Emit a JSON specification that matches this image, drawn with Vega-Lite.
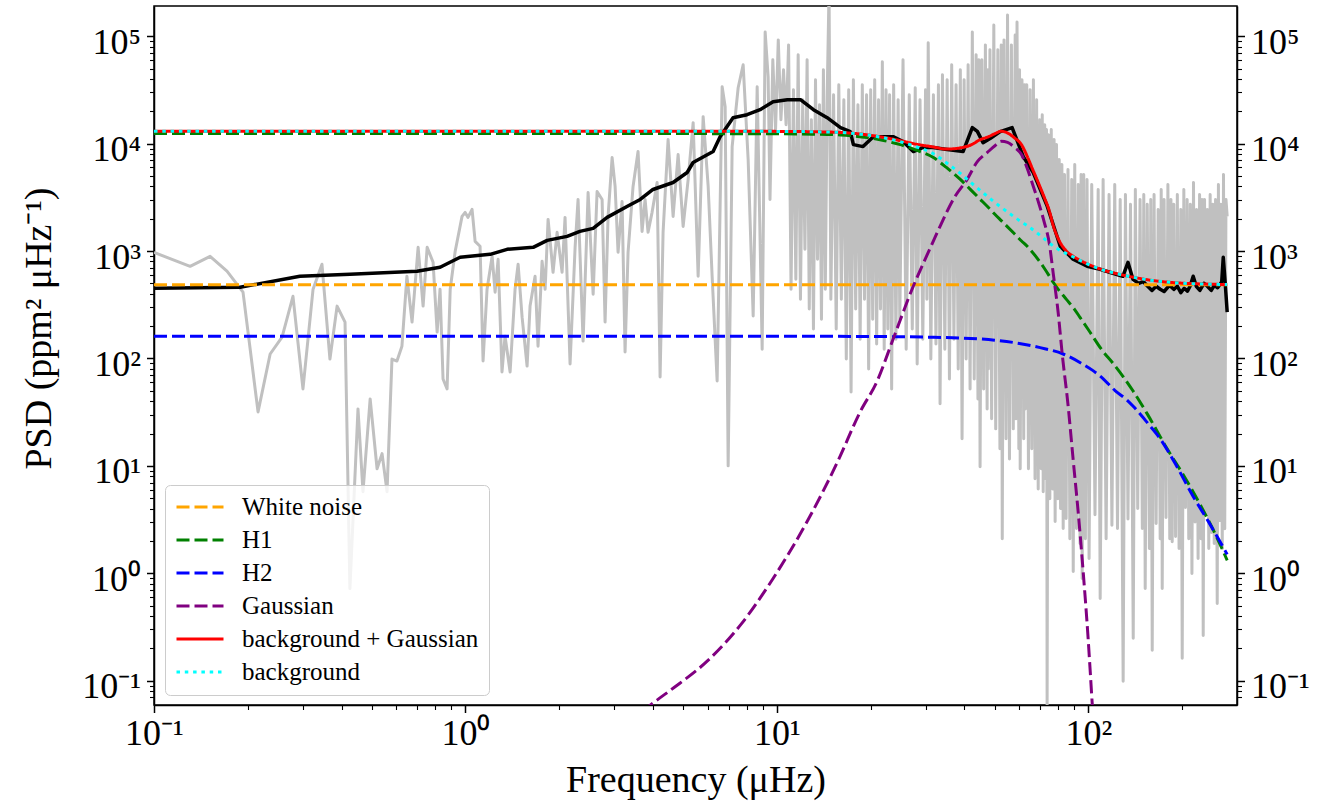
{
  "$schema": "https://vega.github.io/schema/vega-lite/v6.json",
  "width": 1083,
  "height": 699,
  "autosize": "none",
  "padding": {"left": 154, "top": 6, "right": 98, "bottom": 103},
  "background": "white",
  "config": {
    "view": {"stroke": "black", "strokeWidth": 1.5},
    "font": "Liberation Serif",
    "axis": {
      "labelFont": "Liberation Serif", "titleFont": "Liberation Serif",
      "labelFontSize": 36, "titleFontSize": 38, "titleFontWeight": "normal",
      "labelColor": "black", "titleColor": "black",
      "domainColor": "black", "domainWidth": 1.5, "tickColor": "black",
      "grid": false, "labelFlush": false, "labelOverlap": false, "labelBound": false
    }
  },
  "datasets": {
    "gray": [
      {"f":0.1,"p":970},{"f":0.1306,"p":721},{"f":0.1514,"p":893},{"f":0.1715,"p":649},{"f":0.1931,"p":414},{"f":0.2158,"p":31.8},{"f":0.236,"p":110},{"f":0.2577,"p":158},{"f":0.2794,"p":379},{"f":0.3008,"p":52},{"f":0.3241,"p":441},{"f":0.3462,"p":753},{"f":0.3672,"p":98.7},{"f":0.3871,"p":307},{"f":0.4105,"p":218},{"f":0.4256,"p":0.72},{"f":0.4518,"p":33.9},{"f":0.4688,"p":5.75},{"f":0.4943,"p":42},{"f":0.5202,"p":9.4},{"f":0.5398,"p":13},{"f":0.56,"p":5.75},{"f":0.5808,"p":98.7},{"f":0.6026,"p":94.6},{"f":0.6252,"p":130},{"f":0.6486,"p":582},{"f":0.6738,"p":218},{"f":0.7047,"p":1082},{"f":0.7311,"p":307},{"f":0.7534,"p":1082},{"f":0.7872,"p":785},{"f":0.811,"p":176},{"f":0.8287,"p":441},{"f":0.8472,"p":64.4},{"f":0.8729,"p":52},{"f":0.8933,"p":441},{"f":0.9268,"p":994},{"f":0.975,"p":2100},{"f":0.9977,"p":2290},{"f":1.019,"p":2056},{"f":1.05,"p":2440},{"f":1.074,"p":1231},{"f":1.114,"p":1107},
      {"f":1.139,"p":94.6},{"f":1.173,"p":441},{"f":1.218,"p":893},{"f":1.245,"p":414},{"f":1.273,"p":838},{"f":1.31,"p":74.8},{"f":1.34,"p":161},{"f":1.391,"p":74.8},{"f":1.443,"p":441},{"f":1.476,"p":753},{"f":1.52,"p":242},{"f":1.577,"p":84.9},{"f":1.612,"p":307},{"f":1.673,"p":582},{"f":1.71,"p":130},{"f":1.762,"p":802},{"f":1.802,"p":441},{"f":1.842,"p":1970},{"f":1.911,"p":634},{"f":1.969,"p":1493},{"f":2.043,"p":634},{"f":2.088,"p":2056},{"f":2.167,"p":88.7},{"f":2.249,"p":1082},{"f":2.299,"p":3020},{"f":2.386,"p":145},{"f":2.476,"p":3509},{"f":2.57,"p":396},{"f":2.646,"p":3580},{"f":2.746,"p":3020},{"f":2.807,"p":218},{"f":2.87,"p":2100},{"f":2.957,"p":7410},{"f":3.023,"p":3990},{"f":3.09,"p":973},{"f":3.183,"p":2893},{"f":3.254,"p":115},{"f":3.327,"p":973},{"f":3.452,"p":3990},{"f":3.582,"p":8436},{"f":3.69,"p":1523},{"f":3.773,"p":3020},{"f":3.857,"p":1493},{"f":3.973,"p":2290},{"f":4.124,"p":4345},{"f":4.216,"p":67.2},{"f":4.31,"p":1493},{"f":4.473,"p":10900},{"f":4.642,"p":2100},{"f":4.817,"p":7910},{"f":4.999,"p":1694},{"f":5.188,"p":4640},{"f":5.383,"p":15670},{"f":5.585,"p":582},{"f":5.796,"p":17830},{"f":6.015,"p":3990},{"f":6.194,"p":582},{"f":6.427,"p":61.6},{"f":6.67,"p":33800},{"f":6.82,"p":22080},{"f":6.973,"p":10},{"f":7.182,"p":9380},{"f":7.508,"p":33100},{"f":7.791,"p":54200},{"f":8.084,"p":7100},{"f":8.389,"p":248},{"f":8.641,"p":33800},{"f":8.966,"p":122},{"f":9.166,"p":109600},{"f":9.371,"p":41900},
      {"f":9.5,"p":3020},{"f":9.7,"p":60200},{"f":9.9,"p":13500},{"f":10.1,"p":92400},{"f":10.3,"p":16700},{"f":10.5,"p":48700},{"f":10.7,"p":15000},{"f":10.9,"p":83000},{"f":11.1,"p":441},{"f":11.3,"p":31700},{"f":11.5,"p":546},{"f":11.7,"p":67000},{"f":11.9,"p":356},{"f":12.1,"p":25600},{"f":12.3,"p":1037},{"f":12.5,"p":60200},{"f":12.7,"p":288},{"f":12.9,"p":16700},{"f":13.1,"p":188},{"f":13.3,"p":39300},{"f":13.5,"p":838},{"f":13.7,"p":23000},{"f":13.9,"p":232},{"f":14.1,"p":48700},{"f":14.3,"p":441},{"f":14.5,"p":28500},{"f":14.7,"p":269000},{"f":14.9,"p":356},
      {"f":15.2,"p":28500},{"f":15.5,"p":188},{"f":15.8,"p":35300},{"f":16.1,"p":356},{"f":16.4,"p":25600},{"f":16.7,"p":98.7},{"f":17.0,"p":31700},{"f":17.3,"p":48.8},{"f":17.6,"p":39300},{"f":17.9,"p":288},{"f":18.2,"p":23000},{"f":18.5,"p":151},{"f":18.8,"p":35300},{"f":19.1,"p":356},{"f":19.4,"p":28500},{"f":19.7,"p":79.7},{"f":20.0,"p":31700},{"f":20.3,"p":232},{"f":20.6,"p":39300},{"f":20.9,"p":136},{"f":21.2,"p":25600},{"f":21.5,"p":288},{"f":21.8,"p":57700},{"f":22.1,"p":122},{"f":22.4,"p":31700},{"f":22.7,"p":188},{"f":23.0,"p":28500},{"f":23.35,"p":52},{"f":23.7,"p":35300},{"f":24.1,"p":151},{"f":24.5,"p":25600},{"f":24.8,"p":232},
      {"f":25.4,"p":60200},{"f":26.0,"p":122},{"f":26.6,"p":28500},{"f":27.2,"p":188},{"f":27.8,"p":33100},{"f":28.2,"p":88.7},{"f":28.8,"p":25600},{"f":29.4,"p":151},{"f":30.0,"p":31700},{"f":30.3,"p":356},{"f":30.6,"p":86700},{"f":31.2,"p":98.7},{"f":31.8,"p":28500},{"f":32.4,"p":136},{"f":33.0,"p":35300},{"f":33.4,"p":37.8},{"f":34.0,"p":43700},{"f":34.6,"p":122},{"f":35.2,"p":39300},{"f":35.8,"p":64.4},{"f":36.4,"p":54200},{"f":37.0,"p":151},{"f":37.6,"p":35300},{"f":38.2,"p":79.7},{"f":38.8,"p":48700},{"f":39.3,"p":17.9},{"f":39.9,"p":39300},{"f":40.5,"p":98.7},{"f":41.1,"p":54200},{"f":41.7,"p":52},{"f":42.4,"p":109600},{"f":43.0,"p":64.4},{"f":43.6,"p":67000},{"f":44.2,"p":42},{"f":44.5,"p":60200},{"f":44.9,"p":9.8},{"f":45.5,"p":60200},{"f":46.1,"p":52},{"f":46.7,"p":83000},{"f":47.3,"p":33.9},{"f":47.5,"p":48700},{"f":47.7,"p":79.7},{"f":48.3,"p":74600},{"f":48.9,"p":27.4},{"f":49.7,"p":127400},
      {"f":50.4,"p":22.1},{"f":51.2,"p":74600},{"f":52.0,"p":14.4},{"f":52.5,"p":83000},{"f":52.9,"p":2.1},{"f":53.6,"p":92400},{"f":54.4,"p":17.9},{"f":55.0,"p":157700},{"f":55.8,"p":11.6},{"f":56.6,"p":83000},{"f":57.4,"p":22.1},{"f":58.2,"p":102800},{"f":58.6,"p":27.4},{"f":59.0,"p":135800},{"f":59.8,"p":14.4},{"f":60.1,"p":48700},{"f":60.4,"p":9.4},{"f":61.2,"p":39300},{"f":62.0,"p":17.9},{"f":62.35,"p":35300},{"f":62.7,"p":33.9},{"f":63.4,"p":35300},{"f":64.2,"p":9.4},{"f":65.0,"p":31700},{"f":65.8,"p":14.4},{"f":66.6,"p":39300},{"f":67.4,"p":7.6},{"f":68.2,"p":25600},{"f":69.0,"p":6.1},{"f":69.8,"p":16700},{"f":70.6,"p":9.4},{"f":71.1,"p":18600},{"f":71.6,"p":5.75},{"f":72.4,"p":15000},{"f":73.0,"p":7.6},{"f":73.35,"p":13500},{"f":73.7,"p":0.0555},{"f":74.4,"p":12100},{"f":75.2,"p":4.95},{"f":76.0,"p":13500},{"f":76.8,"p":6.1},{"f":77.6,"p":10900},{"f":78.2,"p":3.03},{"f":79.0,"p":9790},{"f":79.8,"p":4.95},{"f":80.6,"p":7100},{"f":81.4,"p":4.0},{"f":82.2,"p":6380},{"f":83.0,"p":2.61},{"f":83.8,"p":5150},{"f":84.8,"p":3.23},{"f":86.0,"p":5740},{"f":87.2,"p":2.1},{"f":88.4,"p":4640},{"f":89.4,"p":1.04},{"f":90.4,"p":6380},{"f":91.6,"p":2.61},{"f":92.8,"p":4160},{"f":94.0,"p":1.89},{"f":94.75,"p":5150},{"f":95.5,"p":0.895},{"f":96.6,"p":5150},{"f":97.8,"p":2.1},{"f":99.0,"p":4640},
      {"f":100.5,"p":1.37},{"f":102.5,"p":4160},{"f":105,"p":3.5},{"f":107.5,"p":3740},{"f":109.1,"p":0.583},{"f":111.5,"p":4640},{"f":114,"p":2.1},{"f":116.5,"p":3360},{"f":119,"p":2.8},{"f":121.5,"p":4160},{"f":124,"p":2.61},{"f":126.5,"p":3020},{"f":129.3,"p":0.0989},{"f":131.5,"p":3360},{"f":134,"p":3.2},{"f":136.5,"p":2720},{"f":139.3,"p":0.248},{"f":141.5,"p":3740},{"f":144,"p":4.0},{"f":146.5,"p":3020},{"f":149,"p":2.61},{"f":150.6,"p":3360},{"f":152.2,"p":0.723},{"f":154.5,"p":2720},{"f":157,"p":1.7},{"f":158.6,"p":3020},{"f":160.3,"p":0.192},{"f":162.5,"p":3360},{"f":165,"p":2.9},{"f":167.5,"p":2440},{"f":170,"p":2.1},{"f":171.3,"p":3740},{"f":172.6,"p":0.723},{"f":175,"p":3020},{"f":177.5,"p":3.3},{"f":180,"p":4160},{"f":182.5,"p":2.1},{"f":184.1,"p":3020},{"f":185.8,"p":1.97},{"f":188,"p":2720},{"f":190.5,"p":2.2},{"f":193,"p":3360},{"f":195.5,"p":1.7},{"f":198,"p":2440},{"f":200.1,"p":0.162},{"f":202.5,"p":3740},{"f":205,"p":4.1},{"f":207.5,"p":3020},{"f":210,"p":2.1},{"f":212.5,"p":2720},{"f":215,"p":0.993},{"f":217.5,"p":4350},{"f":220,"p":3.0},{"f":222.5,"p":2440},{"f":225,"p":1.37},{"f":227.5,"p":3360},{"f":230,"p":2.1},{"f":231.8,"p":3020},{"f":233.7,"p":0.264},{"f":236,"p":3020},{"f":238.5,"p":3.6},{"f":241,"p":2440},{"f":243.5,"p":1.7},{"f":246,"p":3360},{"f":248.5,"p":2.4},{"f":251,"p":2720},{"f":253.5,"p":1.89},{"f":256,"p":3020},{"f":259.2,"p":0.524},{"f":261.5,"p":4160},{"f":264,"p":3.1},{"f":266.5,"p":2720},{"f":269,"p":1.7},{"f":271.5,"p":5150},{"f":274,"p":2.6},{"f":276.5,"p":3020},{"f":279,"p":2100}
    ],
    "black": [
      {"f":0.1,"p":451},{"f":0.189,"p":460},{"f":0.294,"p":582},{"f":0.426,"p":608},{"f":0.699,"p":648},{"f":0.829,"p":707},{"f":0.961,"p":875},{"f":1.2,"p":931},{"f":1.36,"p":1037},{"f":1.65,"p":1082},{"f":1.83,"p":1257},{"f":2.12,"p":1369},{"f":2.33,"p":1523},{"f":2.57,"p":1625},{"f":2.85,"p":2056},{"f":3.3,"p":2601},{"f":3.64,"p":3020},{"f":4.0,"p":3741},{"f":4.64,"p":4345},{"f":5.15,"p":5383},{"f":5.38,"p":6668},{"f":6.24,"p":8436},{"f":6.57,"p":11610},{"f":7.23,"p":17420},{"f":8.02,"p":18580},{"f":8.83,"p":20690},{"f":9.72,"p":24550},{"f":10.8,"p":25640},{"f":11.9,"p":25640},{"f":13.1,"p":20690},{"f":14.5,"p":17420},{"f":16.0,"p":14090},{"f":17.2,"p":12920},{"f":17.6,"p":9790},{"f":18.9,"p":9380},{"f":20.4,"p":11610},{"f":23.6,"p":11610},{"f":25.4,"p":10440},{"f":27.4,"p":8436},{"f":29.5,"p":9200},{"f":31.7,"p":9180},{"f":35.2,"p":8800},{"f":39.6,"p":8436},{"f":42.4,"p":14090},{"f":44,"p":13000},{"f":45.9,"p":10210},{"f":48.5,"p":11200},{"f":52.1,"p":12920},{"f":56.9,"p":14090},{"f":61.8,"p":7570},{"f":66.5,"p":5383},{"f":73.8,"p":2601},{"f":81.2,"p":1107},{"f":89.3,"p":838},{"f":99.1,"p":721},{"f":109,"p":676},{"f":117,"p":634},{"f":129,"p":582},{"f":134,"p":785},{"f":139,"p":546},{"f":145,"p":500},{"f":150,"p":520},{"f":155,"p":470},{"f":160,"p":430},{"f":165,"p":470},{"f":170,"p":441},{"f":175,"p":420},{"f":182,"p":480},{"f":188,"p":440},{"f":193,"p":470},{"f":198,"p":410},{"f":203,"p":450},{"f":208,"p":423},{"f":212,"p":470},{"f":217,"p":582},{"f":222,"p":470},{"f":228,"p":430},{"f":235,"p":500},{"f":241,"p":470},{"f":248,"p":430},{"f":254,"p":480},{"f":260,"p":455},{"f":265,"p":491},{"f":268,"p":520},{"f":271,"p":875},{"f":275,"p":500},{"f":279,"p":270}
    ],
    "model": [
      {"s":"White noise","f":0.1,"p":485},{"s":"White noise","f":279,"p":485},
      {"s":"H1","f":0.1,"p":12400},{"s":"H1","f":1,"p":12400},{"s":"H1","f":5,"p":12390},{"s":"H1","f":10,"p":12350},{"s":"H1","f":13,"p":12250},{"s":"H1","f":16,"p":12050},{"s":"H1","f":19.5,"p":11370},{"s":"H1","f":22,"p":10700},{"s":"H1","f":24.9,"p":9790},{"s":"H1","f":28,"p":8700},{"s":"H1","f":31.8,"p":7410},{"s":"H1","f":35,"p":6000},{"s":"H1","f":38.8,"p":4640},{"s":"H1","f":42,"p":3690},{"s":"H1","f":45,"p":3020},{"s":"H1","f":47.5,"p":2580},{"s":"H1","f":50,"p":2210},{"s":"H1","f":52.5,"p":1920},{"s":"H1","f":55,"p":1680},{"s":"H1","f":58,"p":1440},{"s":"H1","f":61,"p":1240},{"s":"H1","f":63.6,"p":1107},{"s":"H1","f":66,"p":980},{"s":"H1","f":69,"p":833},{"s":"H1","f":72,"p":699},{"s":"H1","f":75,"p":582},{"s":"H1","f":77.1,"p":512},{"s":"H1","f":80,"p":440},{"s":"H1","f":85,"p":355},{"s":"H1","f":90,"p":290},{"s":"H1","f":94.1,"p":240},{"s":"H1","f":100,"p":185},{"s":"H1","f":111,"p":118},{"s":"H1","f":120,"p":90},{"s":"H1","f":139,"p":50},{"s":"H1","f":155,"p":30},{"s":"H1","f":179,"p":14.4},{"s":"H1","f":200,"p":8.6},{"s":"H1","f":229,"p":4.3},{"s":"H1","f":255,"p":2.35},{"s":"H1","f":279,"p":1.32},
      {"s":"H2","f":0.1,"p":161},{"s":"H2","f":1,"p":161},{"s":"H2","f":10,"p":161},{"s":"H2","f":20,"p":160},{"s":"H2","f":30,"p":158},{"s":"H2","f":38.8,"p":155},{"s":"H2","f":50,"p":148},{"s":"H2","f":60,"p":138},{"s":"H2","f":70,"p":126},{"s":"H2","f":83,"p":110},{"s":"H2","f":95,"p":90},{"s":"H2","f":103.5,"p":77},{"s":"H2","f":109,"p":68.7},{"s":"H2","f":122,"p":50},{"s":"H2","f":133,"p":41},{"s":"H2","f":139,"p":36.1},{"s":"H2","f":155,"p":25},{"s":"H2","f":170,"p":17.9},{"s":"H2","f":190,"p":10.5},{"s":"H2","f":217,"p":5.19},{"s":"H2","f":245,"p":2.9},{"s":"H2","f":279,"p":1.5},
      {"s":"Gaussian","f":3.7,"p":0.052},{"s":"Gaussian","f":4.12,"p":0.066},{"s":"Gaussian","f":4.64,"p":0.085},{"s":"Gaussian","f":5.97,"p":0.152},{"s":"Gaussian","f":7.62,"p":0.327},{"s":"Gaussian","f":9.72,"p":0.895},{"s":"Gaussian","f":12.5,"p":3.03},{"s":"Gaussian","f":15.7,"p":11.1},{"s":"Gaussian","f":18.5,"p":31.8},{"s":"Gaussian","f":21,"p":62},{"s":"Gaussian","f":23.6,"p":151},{"s":"Gaussian","f":27.4,"p":470},{"s":"Gaussian","f":30.5,"p":950},{"s":"Gaussian","f":33.4,"p":1694},{"s":"Gaussian","f":37,"p":3100},{"s":"Gaussian","f":40.8,"p":4640},{"s":"Gaussian","f":44,"p":6800},{"s":"Gaussian","f":47.3,"p":8240},{"s":"Gaussian","f":50,"p":9500},{"s":"Gaussian","f":52.5,"p":10500},{"s":"Gaussian","f":55,"p":10250},{"s":"Gaussian","f":58,"p":9200},{"s":"Gaussian","f":61,"p":7900},{"s":"Gaussian","f":63.6,"p":5900},{"s":"Gaussian","f":66,"p":4300},{"s":"Gaussian","f":69,"p":2900},{"s":"Gaussian","f":72,"p":1900},{"s":"Gaussian","f":75,"p":1150},{"s":"Gaussian","f":77.1,"p":620},{"s":"Gaussian","f":80,"p":265},{"s":"Gaussian","f":82.4,"p":110},{"s":"Gaussian","f":86.1,"p":36.1},{"s":"Gaussian","f":89.3,"p":11.6},{"s":"Gaussian","f":92.7,"p":3.75},{"s":"Gaussian","f":96.2,"p":1.04},{"s":"Gaussian","f":99.8,"p":0.248},{"s":"Gaussian","f":101.4,"p":0.12},{"s":"Gaussian","f":103,"p":0.058},{"s":"Gaussian","f":104,"p":0.04},
      {"s":"background + Gaussian","f":0.1,"p":13046},{"s":"background + Gaussian","f":1,"p":13046},{"s":"background + Gaussian","f":5,"p":13036},{"s":"background + Gaussian","f":10,"p":12997},{"s":"background + Gaussian","f":13,"p":12900},{"s":"background + Gaussian","f":16,"p":12709},{"s":"background + Gaussian","f":19.5,"p":12057},{"s":"background + Gaussian","f":22,"p":11430},{"s":"background + Gaussian","f":24.9,"p":10656},{"s":"background + Gaussian","f":28,"p":9881},{"s":"background + Gaussian","f":31.8,"p":9303},{"s":"background + Gaussian","f":35,"p":8891},{"s":"background + Gaussian","f":38.8,"p":9130},{"s":"background + Gaussian","f":42,"p":9728},{"s":"background + Gaussian","f":45,"p":10907},{"s":"background + Gaussian","f":47.5,"p":11515},{"s":"background + Gaussian","f":50,"p":12343},{"s":"background + Gaussian","f":52.5,"p":13051},{"s":"background + Gaussian","f":55,"p":12559},{"s":"background + Gaussian","f":58,"p":11265},{"s":"background + Gaussian","f":61,"p":9762},{"s":"background + Gaussian","f":63.6,"p":7626},{"s":"background + Gaussian","f":66,"p":5896},{"s":"background + Gaussian","f":69,"p":4345},{"s":"background + Gaussian","f":72,"p":3208},{"s":"background + Gaussian","f":75,"p":2337},{"s":"background + Gaussian","f":77.1,"p":1734},{"s":"background + Gaussian","f":80,"p":1304},{"s":"background + Gaussian","f":85,"p":997},{"s":"background + Gaussian","f":90,"p":882},{"s":"background + Gaussian","f":94.1,"p":818},{"s":"background + Gaussian","f":100,"p":752},{"s":"background + Gaussian","f":111,"p":668},{"s":"background + Gaussian","f":120,"p":628},{"s":"background + Gaussian","f":139,"p":571},{"s":"background + Gaussian","f":155,"p":540},{"s":"background + Gaussian","f":179,"p":514},{"s":"background + Gaussian","f":200,"p":502},{"s":"background + Gaussian","f":229,"p":494},{"s":"background + Gaussian","f":255,"p":490},{"s":"background + Gaussian","f":279,"p":488}
    ],
    "bg": [
      {"s":"background","f":0.1,"p":13046},{"s":"background","f":1,"p":13046},{"s":"background","f":5,"p":13036},{"s":"background","f":10,"p":12996},{"s":"background","f":13,"p":12896},{"s":"background","f":16,"p":12696},{"s":"background","f":19.5,"p":12015},{"s":"background","f":22,"p":11345},{"s":"background","f":24.9,"p":10434},{"s":"background","f":28,"p":9344},{"s":"background","f":31.8,"p":8053},{"s":"background","f":35,"p":6641},{"s":"background","f":38.8,"p":5280},{"s":"background","f":42,"p":4328},{"s":"background","f":45,"p":3657},{"s":"background","f":47.5,"p":3215},{"s":"background","f":50,"p":2843},{"s":"background","f":52.5,"p":2551},{"s":"background","f":55,"p":2309},{"s":"background","f":58,"p":2065},{"s":"background","f":61,"p":1862},{"s":"background","f":63.6,"p":1726},{"s":"background","f":66,"p":1596},{"s":"background","f":69,"p":1445},{"s":"background","f":72,"p":1308},{"s":"background","f":75,"p":1187},{"s":"background","f":77.1,"p":1114},{"s":"background","f":80,"p":1039},{"s":"background","f":85,"p":947},{"s":"background","f":90,"p":873},{"s":"background","f":94.1,"p":816},{"s":"background","f":100,"p":752},{"s":"background","f":111,"p":668},{"s":"background","f":120,"p":628},{"s":"background","f":139,"p":571},{"s":"background","f":155,"p":540},{"s":"background","f":179,"p":514},{"s":"background","f":200,"p":502},{"s":"background","f":229,"p":494},{"s":"background","f":255,"p":490},{"s":"background","f":279,"p":488}
    ]
  },
  "encoding": {
    "x": {
      "field": "f", "type": "quantitative",
      "scale": {"type": "log", "domain": [0.1, 300], "nice": false},
      "axis": {
        "values": [0.1,0.2,0.3,0.4,0.5,0.6,0.7,0.8,0.9,1,2,3,4,5,6,7,8,9,10,20,30,40,50,60,70,80,90,100,200],
        "labelExpr": "abs(log(datum.value)/LN10 - round(log(datum.value)/LN10)) < 0.001 ? '10' + ['⁻¹','⁰','¹','²','³','⁴','⁵'][round(log(datum.value)/LN10)+1] : ''",
        "tickSize": {"condition": {"test": "abs(log(datum.value)/LN10 - round(log(datum.value)/LN10)) < 0.001", "value": 7.5}, "value": 4.5},
        "tickWidth": {"condition": {"test": "abs(log(datum.value)/LN10 - round(log(datum.value)/LN10)) < 0.001", "value": 1.5}, "value": 1.1},
        "labelPadding": 4,
        "title": "Frequency (μHz)",
        "titleY": 86,
        "titleBaseline": "alphabetic"
      }
    }
  },
  "layer": [
    {
      "encoding": {
        "y": {
          "field": "p", "type": "quantitative",
          "scale": {"type": "log", "domain": [0.0594, 191000], "nice": false},
          "axis": {
            "orient": "left",
            "values": [0.07,0.08,0.09,0.1,0.2,0.3,0.4,0.5,0.6,0.7,0.8,0.9,1,2,3,4,5,6,7,8,9,10,20,30,40,50,60,70,80,90,100,200,300,400,500,600,700,800,900,1000,2000,3000,4000,5000,6000,7000,8000,9000,10000,20000,30000,40000,50000,60000,70000,80000,90000,100000],
            "labelExpr": "abs(log(datum.value)/LN10 - round(log(datum.value)/LN10)) < 0.001 ? '10' + ['⁻¹','⁰','¹','²','³','⁴','⁵'][round(log(datum.value)/LN10)+1] : ''",
            "tickSize": {"condition": {"test": "abs(log(datum.value)/LN10 - round(log(datum.value)/LN10)) < 0.001", "value": 7.5}, "value": 4.5},
            "tickWidth": {"condition": {"test": "abs(log(datum.value)/LN10 - round(log(datum.value)/LN10)) < 0.001", "value": 1.5}, "value": 1.1},
            "labelPadding": 6,
            "labelOffset": 6,
            "title": "PSD (ppm² μHz⁻¹)",
            "titleAngle": -90,
            "titleX": -104,
            "titleY": 322,
            "titleAlign": "center",
            "titleBaseline": "alphabetic"
          }
        }
      },
      "layer": [
        {"data": {"name": "gray"}, "mark": {"type": "line", "color": "#c0c0c0", "strokeWidth": 3, "strokeJoin": "round", "clip": true}},
        {"data": {"name": "black"}, "mark": {"type": "line", "color": "black", "strokeWidth": 3.5, "strokeJoin": "round", "clip": true}},
        {
          "data": {"name": "model"},
          "mark": {"type": "line", "strokeWidth": 3, "interpolate": "monotone", "clip": true, "strokeCap": "butt"},
          "encoding": {
            "color": {
              "field": "s", "type": "nominal",
              "scale": {"domain": ["White noise","H1","H2","Gaussian","background + Gaussian","background"], "range": ["#ffa500","#008000","#0000ff","#800080","#ff0000","#00ffff"]},
              "legend": {"orient": "none", "legendX": 11, "legendY": 479, "title": null, "symbolType": "stroke", "symbolSize": 2209, "symbolStrokeWidth": 3, "labelFont": "Liberation Serif", "labelFontSize": 25, "labelColor": "black", "labelOffset": 17, "labelLimit": 400, "clipHeight": 24, "rowPadding": 8, "padding": 10, "fillColor": "rgba(255,255,255,0.8)", "strokeColor": "#cccccc", "cornerRadius": 5}
            },
            "strokeDash": {
              "field": "s", "type": "nominal",
              "scale": {"domain": ["White noise","H1","H2","Gaussian","background + Gaussian","background"], "range": [[13,5],[13,5],[13,5],[13,5],[1,0],[3.5,4.8]]},
              "legend": {"orient": "none", "legendX": 11, "legendY": 479, "title": null, "symbolType": "stroke", "symbolSize": 2209, "symbolStrokeWidth": 3, "labelFont": "Liberation Serif", "labelFontSize": 25, "labelColor": "black", "labelOffset": 17, "labelLimit": 400, "clipHeight": 24, "rowPadding": 8, "padding": 10, "fillColor": "rgba(255,255,255,0.8)", "strokeColor": "#cccccc", "cornerRadius": 5}
            }
          }
        },
        {
          "data": {"name": "bg"},
          "mark": {"type": "line", "strokeWidth": 3, "interpolate": "monotone", "clip": true, "strokeCap": "butt"},
          "encoding": {
            "color": {"field": "s", "type": "nominal"},
            "strokeDash": {"field": "s", "type": "nominal"}
          }
        }
      ]
    },
    {
      "data": {"name": "black"},
      "mark": {"type": "line", "opacity": 0},
      "encoding": {
        "y": {
          "field": "p", "type": "quantitative",
          "scale": {"type": "log", "domain": [0.0594, 191000], "nice": false},
          "axis": {
            "orient": "right",
            "values": [0.07,0.08,0.09,0.1,0.2,0.3,0.4,0.5,0.6,0.7,0.8,0.9,1,2,3,4,5,6,7,8,9,10,20,30,40,50,60,70,80,90,100,200,300,400,500,600,700,800,900,1000,2000,3000,4000,5000,6000,7000,8000,9000,10000,20000,30000,40000,50000,60000,70000,80000,90000,100000],
            "labelExpr": "abs(log(datum.value)/LN10 - round(log(datum.value)/LN10)) < 0.001 ? '10' + ['⁻¹','⁰','¹','²','³','⁴','⁵'][round(log(datum.value)/LN10)+1] : ''",
            "tickSize": {"condition": {"test": "abs(log(datum.value)/LN10 - round(log(datum.value)/LN10)) < 0.001", "value": 7.5}, "value": 4.5},
            "tickWidth": {"condition": {"test": "abs(log(datum.value)/LN10 - round(log(datum.value)/LN10)) < 0.001", "value": 1.5}, "value": 1.1},
            "labelPadding": 6,
            "labelOffset": 6,
            "title": null
          }
        }
      }
    }
  ],
  "resolve": {"scale": {"y": "independent"}}
}
